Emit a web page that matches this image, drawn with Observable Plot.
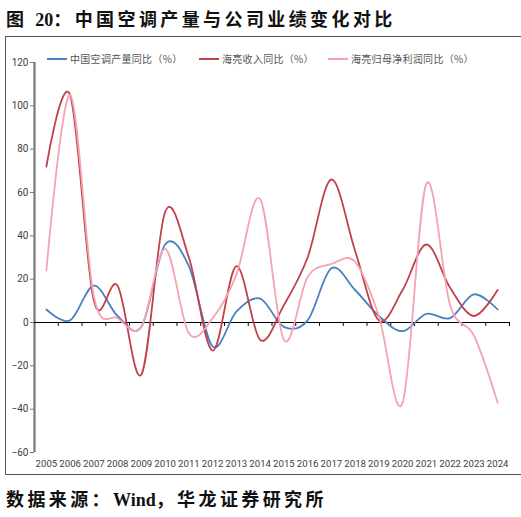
<!DOCTYPE html>
<html>
<head>
<meta charset="utf-8">
<script src="https://cdn.jsdelivr.net/npm/d3@7"></script>
<script src="https://cdn.jsdelivr.net/npm/@observablehq/plot@0.6"></script>
<style>
  body { margin: 0; background: #fff; width: 521px; height: 517px; overflow: hidden; }
  #title { position: absolute; left: 6px; top: 5px; font-family: "Liberation Serif", "Noto Sans CJK SC", serif; font-weight: bold; font-size: 18px; letter-spacing: 3.4px; color: #111; white-space: nowrap; }
  .tight { letter-spacing: 0; }
  #box { position: absolute; left: 5px; top: 36px; width: 520px; height: 439px; border: 1px solid #555; box-sizing: border-box; }
  #chart { position: absolute; left: 0; top: 0; }
  #legend { position: absolute; left: 41px; top: 14px; font-family: "Noto Sans CJK SC", sans-serif; font-size: 10px; color: #555; white-space: nowrap; letter-spacing: 0.3px; }
  .item { position: absolute; top: 0; display: flex; align-items: center; }
  .sw { display: inline-block; width: 20px; height: 2px; margin-right: 3px; }
  #caption { position: absolute; left: 6px; top: 485px; font-family: "Liberation Serif", "Noto Sans CJK SC", serif; font-weight: bold; font-size: 18px; letter-spacing: 3.4px; color: #111; white-space: nowrap; }
</style>
</head>
<body>
<div id="title">图 <span class="tight">20</span>：中国空调产量与公司业绩变化对比</div>
<div id="box"><div id="chart"></div><div id="legend"></div></div>
<div id="caption">数据来源：<span class="tight">Wind</span>，华龙证券研究所</div>
<script>
const years = [2005,2006,2007,2008,2009,2010,2011,2012,2013,2014,2015,2016,2017,2018,2019,2020,2021,2022,2023,2024];
const acOutput = [6,1,17,3,-2,36,26,-11,5,11,-2,1,25,15,3,-4,4,2,13,6];
const revenue = [72,105,10,17,-24,51,30,-13,26,-8,8,30,66,33,1,15,36,16,3,15];
const netProfit = [24,105,12,2,-2,34,-5,2,22,57,-8,21,27,28,3,-37,64,8,-6,-37];
const seriesNames = ["中国空调产量同比（%）", "海亮收入同比（%）", "海亮归母净利润同比（%）"];
const seriesColors = ["#4a7fc1", "#c0414a", "#f5a3b1"];
const yTicks = [-60,-40,-20,0,20,40,60,80,100,120];

const seriesValues = [acOutput, revenue, netProfit];
const rows = [];
seriesNames.forEach((name, i) => years.forEach((yr, j) => rows.push({series: name, year: yr, value: seriesValues[i][j]})));

const xDomain = [years[0] - 0.5, years[years.length - 1] + 0.5];
const boundaries = years.map(y => y + 0.5);

const chart = Plot.plot({
  width: 515,
  height: 437,
  marginLeft: 28,
  marginRight: 12,
  marginTop: 25,
  marginBottom: 22,
  x: {domain: xDomain, axis: null},
  y: {domain: [yTicks[0], yTicks[yTicks.length - 1]], ticks: yTicks, tickSize: 4, tickPadding: 2, label: null},
  color: {domain: seriesNames, range: seriesColors},
  style: {fontFamily: "Roboto, 'DejaVu Sans', sans-serif", fontSize: "10px", color: "#404040", background: "transparent"},
  marks: [
    Plot.axisY({ticks: yTicks, tickSize: 4, tickPadding: 2, label: null, fontSize: 10, fill: "#404040", stroke: "#777"}),
    Plot.ruleX([xDomain[0]], {y1: yTicks[0], y2: yTicks[yTicks.length - 1], stroke: "#777", strokeWidth: 2.2}),
    Plot.ruleY([0], {x1: xDomain[0], x2: xDomain[1], stroke: "#000", strokeWidth: 1.2}),
    Plot.ruleX(boundaries, {x: d => d, y1: 0, y2: -1.8, stroke: "#000", strokeWidth: 1}),
    Plot.line(rows, {x: "year", y: "value", z: "series", stroke: "series", strokeWidth: 1.8, curve: "cardinal"}),
    Plot.text(years, {x: d => d, text: d => String(d), frameAnchor: "bottom", dy: 14, fontSize: 9.6, fill: "#404040"})
  ]
});
document.getElementById("chart").appendChild(chart);

const legend = document.getElementById("legend");
const offsets = [0, 152, 281];
seriesNames.forEach((name, i) => {
  const it = document.createElement("div");
  it.className = "item";
  it.style.left = offsets[i] + "px";
  it.innerHTML = `<span class="sw" style="background:${seriesColors[i]}"></span><span>${name}</span>`;
  legend.appendChild(it);
});
</script>
</body>
</html>
